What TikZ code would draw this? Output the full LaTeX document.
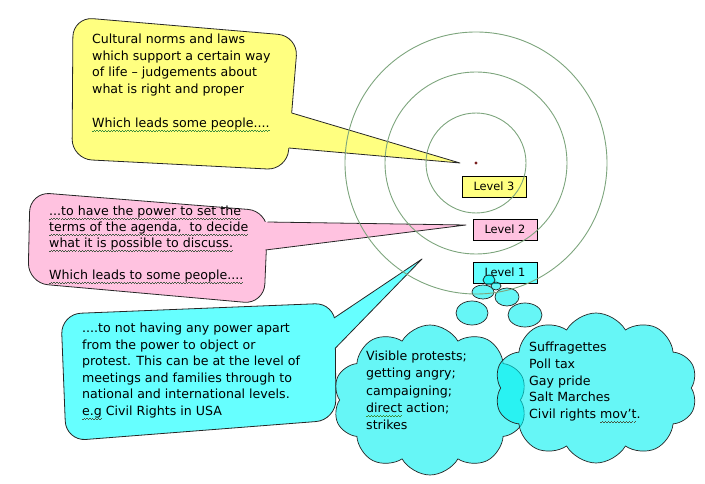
\documentclass[tikz,border=0pt]{standalone}
\usepackage{fontspec}
\setmainfont{DejaVu Sans}
\usetikzlibrary{shapes.symbols}
\definecolor{cyellow}{RGB}{255,255,128}
\definecolor{cpink}{RGB}{255,194,224}
\definecolor{ccyan}{RGB}{102,255,255}
\definecolor{ccloud}{RGB}{0,240,240}
\definecolor{cring}{RGB}{125,165,125}
\definecolor{cdot}{RGB}{120,30,30}
\definecolor{sqgreen}{RGB}{60,140,60}
\definecolor{sqdark}{RGB}{70,90,70}
\newcommand\sqline[2]{\setbox0\hbox{#2}\leavevmode\rlap{\textcolor{#1}{\hbox to \wd0{\xleaders\hbox{\rule[-4.2pt]{1.4pt}{0.7pt}\rule[-3.4pt]{1.4pt}{0.7pt}}\hfil}}}\box0\relax}
\newcommand\sqg[1]{\sqline{sqgreen}{#1}}
\newcommand\sqd[1]{\sqline{sqdark}{#1}}
\tikzset{
  callout/.style={draw=black!85, line width=0.8pt, line join=round},
  body/.style={callout, rounded corners=20pt},
  txt/.style={inner sep=0pt, anchor=north west, align=left,
    font=\fontsize{12.6}{16.7}\selectfont, text=black},
  levelbox/.style={draw=black, line width=0.7pt, minimum width=64pt,
    minimum height=21pt, inner sep=0pt, font=\fontsize{11.4}{13}\selectfont},
  ring/.style={draw=cring, line width=0.9pt},
  puff/.style={draw=black!85, line width=0.7pt, fill=ccloud, fill opacity=0.6},
  thoughtcloud/.style={puff, cloud, cloud puffs=10, cloud puff arc=120,
    aspect=1.3, inner sep=0pt}
}
\begin{document}
\begin{tikzpicture}[x=1pt,y=-1pt]
\useasboundingbox (0,0) rectangle (705,484);
% ---------- yellow callout
\coordinate (yC) at (291.7,113);
\coordinate (yD) at (288.8,148);
\coordinate (yT) at (460,163);
\filldraw[body, fill=cyellow] (73,17) -- (298,36) -- (287,170) -- (72,159) -- cycle;
\fill[cyellow] (yC) -- (yT) -- (yD) -- (278,148) -- (281,113) -- cycle;
\draw[callout] (yC) -- (yT) -- (yD);
% ---------- pink callout
\coordinate (pC) at (267.5,222);
\coordinate (pD) at (265.5,250);
\coordinate (pT) at (466,225);
\filldraw[body, fill=cpink] (30,192) -- (268,211) -- (264,304) -- (28,283) -- cycle;
\fill[cpink] (pC) -- (pT) -- (pD) -- (255,250) -- (257,222) -- cycle;
\draw[callout] (pC) -- (pT) -- (pD);
% ---------- cyan callout
\coordinate (cC) at (334,318);
\coordinate (cD) at (335.5,348);
\coordinate (cT) at (422,259);
\filldraw[body, fill=ccyan] (61,314) -- (335,303) -- (336,420) -- (66,441) -- cycle;
\fill[ccyan] (cC) -- (cT) -- (cD) -- (324,348) -- (322,318) -- cycle;
\draw[callout] (cC) -- (cT) -- (cD);
% ---------- clouds
\node[thoughtcloud, minimum width=194pt, minimum height=150pt] (cl1) at (430,400) {};
\node[thoughtcloud, minimum width=203pt, minimum height=150pt] (cl2) at (596,388) {};
% ---------- level boxes
\node[levelbox, fill=cyellow] (l3) at (494,186.5) {Level 3};
\node[levelbox, fill=cpink] (l2) at (505,229.5) {Level 2};
\node[levelbox, fill=ccyan] (l1) at (505,272.5) {Level 1};
% ---------- thought bubbles
\draw[puff] (472,313) ellipse[x radius=16pt, y radius=12pt];
\draw[puff] (525,315) ellipse[x radius=17pt, y radius=12pt];
\draw[puff] (483,292) ellipse[x radius=11pt, y radius=7pt];
\draw[puff] (507,297) ellipse[x radius=12pt, y radius=9pt];
\draw[puff] (489,280) ellipse[x radius=6pt, y radius=5pt];
\draw[puff] (496,286) ellipse[x radius=5pt, y radius=4pt];
% ---------- concentric rings
\coordinate (ctr) at (476,163);
\draw[ring] (ctr) circle[radius=50pt];
\draw[ring] (ctr) circle[radius=91pt];
\draw[ring] (ctr) circle[radius=131pt];
\fill[cdot] (ctr) circle[radius=1.7pt];
% ---------- texts
\node[txt] (ty) at (92,33.8) {Cultural norms and laws\\which support a certain way\\of life – judgements about\\what is right and proper\\[16.7pt]\sqg{Which leads some people....}};
\node[txt, font=\fontsize{12.6}{16}\selectfont] (tp) at (49,205.8) {\sqd{...to have the power to set the}\\\sqd{terms of the agenda,\ \ to decide}\\\sqd{what it is possible to discuss.}\\[16pt]\sqd{Which leads to some people....}};
\node[txt, font=\fontsize{12.6}{16.6}\selectfont] (tc) at (82,322.8) {....to not having any power apart\\from the power to object or\\protest. This can be at the level of\\meetings and families through to\\national and international levels.\\\sqd{e.g} Civil Rights in USA};
\node[txt, font=\fontsize{12.6}{17.25}\selectfont] (tl) at (366,350.8) {Visible protests;\\getting angry;\\campaigning;\\\sqg{direct} action;\\strikes};
\node[txt, font=\fontsize{12.6}{16.75}\selectfont] (tr) at (529,341.8) {Suffragettes\\Poll tax\\Gay pride\\Salt Marches\\Civil rights \sqd{mov’t}.};
\end{tikzpicture}
\end{document}
